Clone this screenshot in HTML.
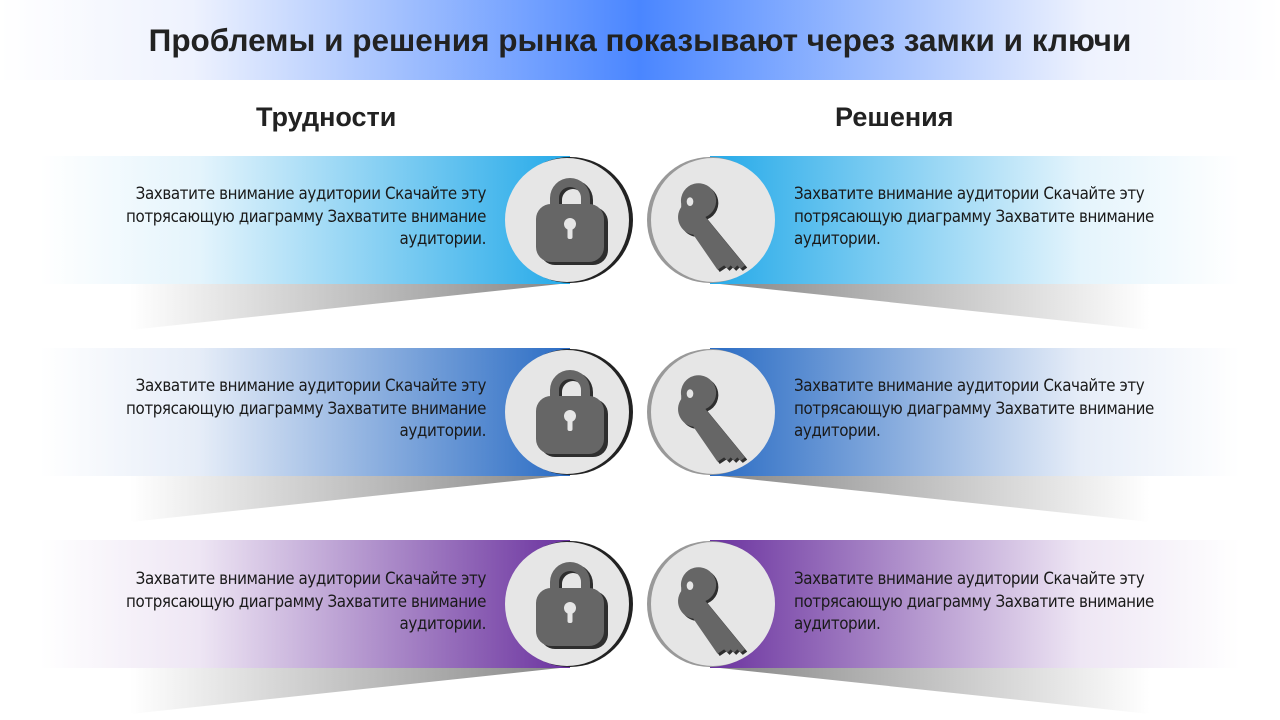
<!DOCTYPE html>
<html><head><meta charset="utf-8"><style>
body{margin:0;width:1280px;height:720px;overflow:hidden;background:#fff;font-family:"Liberation Sans",sans-serif;position:relative}
.t{position:absolute;font-size:16.8px;line-height:22.5px;color:#1a1a1a;width:420px;font-family:"DejaVu Sans Condensed","Liberation Sans",sans-serif;letter-spacing:-0.4px}
.l{left:66px;text-align:right}
.r{left:794px;text-align:left}
h1{position:absolute;top:22px;left:0;width:1280px;text-align:center;margin:0;font-size:31.5px;font-weight:bold;color:#222}
h2{position:absolute;margin:0;font-size:27px;font-weight:bold;color:#222;top:102px}
</style></head><body>
<svg width="1280" height="720" style="position:absolute;left:0;top:0">
<defs>
<linearGradient id="hd" x1="0" x2="1"><stop offset="0" stop-color="#fff"/><stop offset="0.15" stop-color="#eef2fe"/><stop offset="0.5" stop-color="#4a86ff"/><stop offset="0.85" stop-color="#eef2fe"/><stop offset="1" stop-color="#fff"/></linearGradient>
<linearGradient id="c1" x1="0" x2="1"><stop offset="0" stop-color="#fff"/><stop offset="0.3" stop-color="#e4f4fc"/><stop offset="1" stop-color="#25aae9"/></linearGradient>
<linearGradient id="c1r" x1="1" x2="0"><stop offset="0" stop-color="#fff"/><stop offset="0.3" stop-color="#e4f4fc"/><stop offset="1" stop-color="#25aae9"/></linearGradient>
<linearGradient id="c2" x1="0" x2="1"><stop offset="0" stop-color="#fff"/><stop offset="0.3" stop-color="#e6edf8"/><stop offset="1" stop-color="#2a6cc4"/></linearGradient>
<linearGradient id="c2r" x1="1" x2="0"><stop offset="0" stop-color="#fff"/><stop offset="0.3" stop-color="#e6edf8"/><stop offset="1" stop-color="#2a6cc4"/></linearGradient>
<linearGradient id="c3" x1="0" x2="1"><stop offset="0" stop-color="#fff"/><stop offset="0.3" stop-color="#eee6f4"/><stop offset="1" stop-color="#6b339f"/></linearGradient>
<linearGradient id="c3r" x1="1" x2="0"><stop offset="0" stop-color="#fff"/><stop offset="0.3" stop-color="#eee6f4"/><stop offset="1" stop-color="#6b339f"/></linearGradient>
<linearGradient id="sh" x1="0" x2="1"><stop offset="0" stop-color="#fff"/><stop offset="1" stop-color="#888"/></linearGradient>
<linearGradient id="shr" x1="1" x2="0"><stop offset="0" stop-color="#fff"/><stop offset="1" stop-color="#888"/></linearGradient>
<g id="lock">
<path d="M-20,-14 v-8 a20,20 0 0 1 40,0 v8 h-9 v-8 a11,11 0 0 0 -22,0 v8z" fill="#2e2e2e" transform="translate(3,2)"/>
<rect x="-34" y="-16" width="68" height="58" rx="15" fill="#2e2e2e" transform="translate(4,3)"/>
<path d="M-20,-14 v-8 a20,20 0 0 1 40,0 v8 h-9 v-8 a11,11 0 0 0 -22,0 v8z" fill="#666"/>
<rect x="-34" y="-16" width="68" height="58" rx="15" fill="#666"/>
<circle cx="0" cy="4" r="6" fill="#e6e6e6"/><rect x="-2.5" y="4" width="5" height="15" rx="2" fill="#e6e6e6"/>
</g>
<g id="key">
<g transform="scale(1.1)">
<path d="M-28,-22 a16,16 0 1 1 22,12 l36,44 l-4,3 l-3,-3 l-3,3 l-3,-3 l-3,3 l-3,-3 l-6,4 l-22,-32 a16,16 0 0 1 -11,-25z" fill="#2e2e2e" transform="translate(2,2)"/>
<path d="M-28,-22 a16,16 0 1 1 22,12 l36,44 l-4,3 l-3,-3 l-3,3 l-3,-3 l-3,3 l-3,-3 l-6,4 l-22,-32 a16,16 0 0 1 -11,-25z" fill="#666"/>
<ellipse cx="-20" cy="-24" rx="3" ry="4" fill="#e6e6e6"/>
</g>
</g>
</defs>
<rect x="0" y="0" width="1280" height="80" fill="url(#hd)"/>
<g>
<polygon points="130,284 560,284 130,330" fill="url(#sh)"/><polygon points="1150,284 720,284 1150,330" fill="url(#shr)"/>
<rect x="40" y="156" width="530" height="128" fill="url(#c1)"/><rect x="710" y="156" width="530" height="128" fill="url(#c1r)"/>
</g>
<g transform="translate(0,192)">
<polygon points="130,284 560,284 130,330" fill="url(#sh)"/><polygon points="1150,284 720,284 1150,330" fill="url(#shr)"/>
<rect x="40" y="156" width="530" height="128" fill="url(#c2)"/><rect x="710" y="156" width="530" height="128" fill="url(#c2r)"/>
</g>
<g transform="translate(0,384)">
<polygon points="130,284 560,284 130,330" fill="url(#sh)"/><polygon points="1150,284 720,284 1150,330" fill="url(#shr)"/>
<rect x="40" y="156" width="530" height="128" fill="url(#c3)"/><rect x="710" y="156" width="530" height="128" fill="url(#c3r)"/>
</g>
<g transform="translate(0,220)"><circle cx="570" cy="0" r="63" fill="#222"/><circle cx="567" cy="0" r="62" fill="#e6e6e6"/><use href="#lock" x="570" y="0"/><circle cx="710" cy="0" r="63" fill="#999"/><circle cx="713" cy="0" r="62" fill="#e6e6e6"/><use href="#key" x="712" y="8"/></g>
<g transform="translate(0,412)"><circle cx="570" cy="0" r="63" fill="#222"/><circle cx="567" cy="0" r="62" fill="#e6e6e6"/><use href="#lock" x="570" y="0"/><circle cx="710" cy="0" r="63" fill="#999"/><circle cx="713" cy="0" r="62" fill="#e6e6e6"/><use href="#key" x="712" y="8"/></g>
<g transform="translate(0,604)"><circle cx="570" cy="0" r="63" fill="#222"/><circle cx="567" cy="0" r="62" fill="#e6e6e6"/><use href="#lock" x="570" y="0"/><circle cx="710" cy="0" r="63" fill="#999"/><circle cx="713" cy="0" r="62" fill="#e6e6e6"/><use href="#key" x="712" y="8"/></g>
</svg>
<h1>Проблемы и решения рынка показывают через замки и ключи</h1>
<h2 style="left:256px">Трудности</h2>
<h2 style="left:835px">Решения</h2>
<div class="t l" style="top:182px">Захватите внимание аудитории Скачайте эту потрясающую диаграмму Захватите внимание аудитории.</div>
<div class="t r" style="top:182px">Захватите внимание аудитории Скачайте эту потрясающую диаграмму Захватите внимание аудитории.</div>
<div class="t l" style="top:374px">Захватите внимание аудитории Скачайте эту потрясающую диаграмму Захватите внимание аудитории.</div>
<div class="t r" style="top:374px">Захватите внимание аудитории Скачайте эту потрясающую диаграмму Захватите внимание аудитории.</div>
<div class="t l" style="top:567px">Захватите внимание аудитории Скачайте эту потрясающую диаграмму Захватите внимание аудитории.</div>
<div class="t r" style="top:567px">Захватите внимание аудитории Скачайте эту потрясающую диаграмму Захватите внимание аудитории.</div>
</body></html>
